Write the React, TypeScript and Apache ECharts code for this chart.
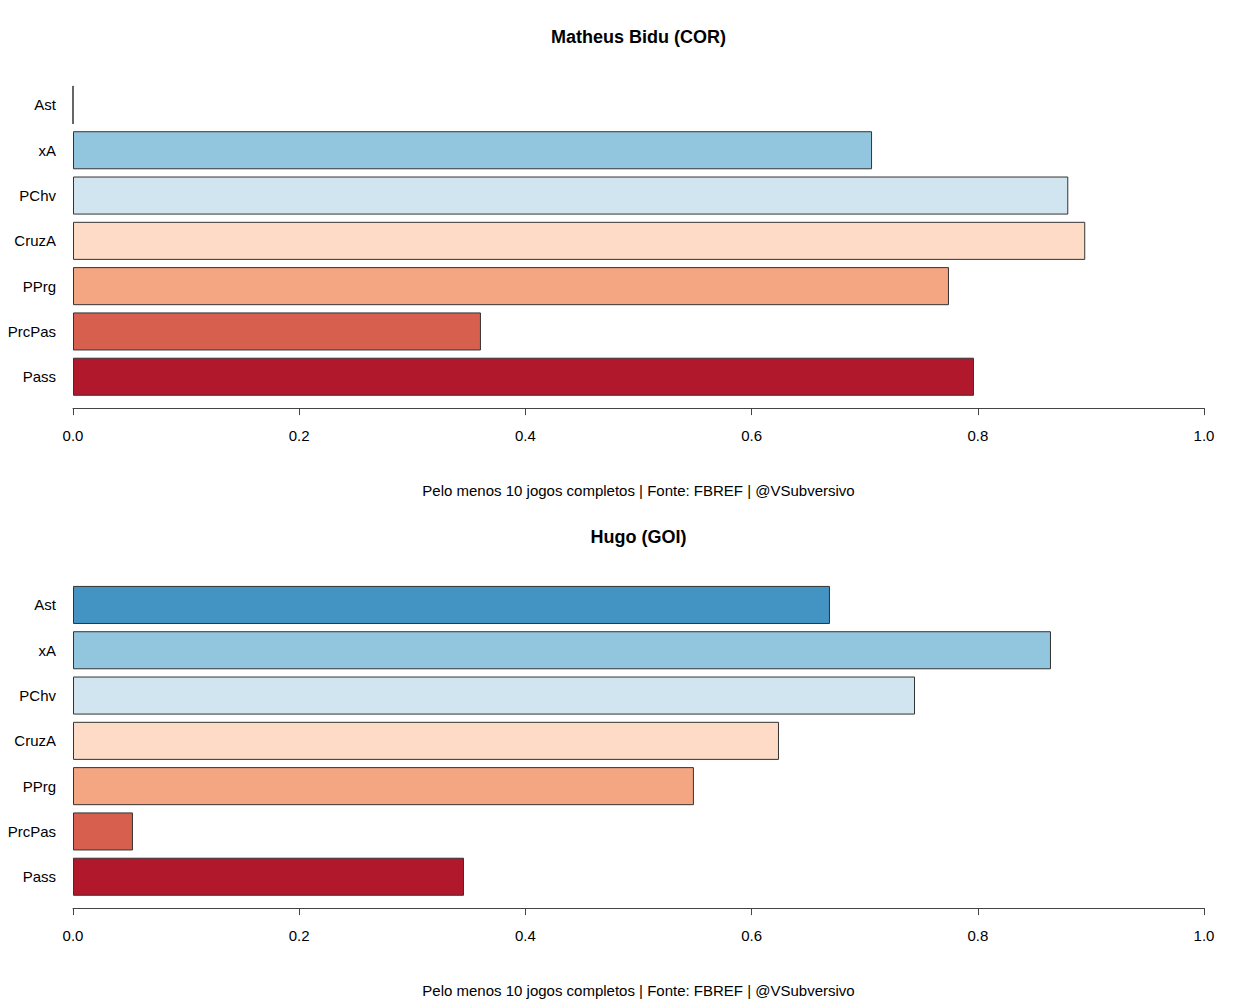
import React, { useEffect, useRef } from "react";
import * as echarts from "echarts";

const categories = ["Ast", "xA", "PChv", "CruzA", "PPrg", "PrcPas", "Pass"];
const barColors = ["#4393C3", "#92C5DE", "#D1E5F0", "#FDDBC7", "#F4A582", "#D6604D", "#B2182B"];
const tickValues = [0, 0.2, 0.4, 0.6, 0.8, 1.0];

const titles = ["Matheus Bidu (COR)", "Hugo (GOI)"];
const caption = "Pelo menos 10 jogos completos | Fonte: FBREF | @VSubversivo";

const valuesBidu = [0, 0.7065, 0.88, 0.895, 0.7745, 0.3607, 0.7966];
const valuesHugo = [0.6693, 0.8647, 0.7445, 0.6242, 0.549, 0.053, 0.3457];

const panels = [valuesBidu, valuesHugo];

export default function App() {
  const ref = useRef<HTMLDivElement>(null);
  useEffect(() => {
    if (!ref.current) return;
    const chart = echarts.init(ref.current, null, { renderer: "svg" });
    const font = "'Liberation Sans', Arial, Helvetica, sans-serif";
    const left = 73;
    const right = 1242 - 1204;
    const grids: any[] = [];
    const xAxes: any[] = [];
    const yAxes: any[] = [];
    const series: any[] = [];
    const graphics: any[] = [];
    panels.forEach((vals, i) => {
      const off = i * 500;
      grids.push({ left, right, top: 82.3 + off, height: 317.1 });
      xAxes.push({
        type: "value",
        gridIndex: i,
        min: tickValues[0],
        max: tickValues[tickValues.length - 1],
        interval: 0.2,
        offset: 8.7,
        splitLine: { show: false },
        axisLine: { show: true, lineStyle: { color: "#444", width: 1 } },
        axisTick: { show: true, length: 7, lineStyle: { color: "#444", width: 1 } },
        axisLabel: {
          color: "#000",
          fontSize: 15,
          fontFamily: font,
          margin: 20,
          formatter: (v: number) => v.toFixed(1),
        },
      });
      yAxes.push({
        type: "category",
        gridIndex: i,
        data: categories,
        inverse: true,
        axisLine: { show: false },
        axisTick: { show: false },
        axisLabel: { color: "#000", fontSize: 15, fontFamily: font, margin: 17 },
      });
      series.push({
        type: "bar",
        xAxisIndex: i,
        yAxisIndex: i,
        barCategoryGap: "16%",
        data: vals.map((v, j) => ({
          value: v,
          itemStyle: { color: barColors[j], borderColor: "#333", borderWidth: 1 },
        })),
      });
      graphics.push({
        type: "text",
        x: 638.5,
        y: 37 + off,
        style: {
          text: titles[i],
          fontSize: 18,
          fontWeight: "bold",
          fontFamily: font,
          fill: "#000",
          textAlign: "center",
          textVerticalAlign: "middle",
        },
      });
      graphics.push({
        type: "text",
        x: 638.5,
        y: 490 + off,
        style: {
          text: caption,
          fontSize: 15,
          fontFamily: font,
          fill: "#000",
          textAlign: "center",
          textVerticalAlign: "middle",
        },
      });
    });
    chart.setOption({
      animation: false,
      backgroundColor: "#fff",
      grid: grids,
      xAxis: xAxes,
      yAxis: yAxes,
      series,
      graphic: graphics,
    });
    return () => chart.dispose();
  }, []);
  return <div ref={ref} style={{ width: 1242, height: 1000, position: "absolute", left: 0, top: 0 }} />;
}
